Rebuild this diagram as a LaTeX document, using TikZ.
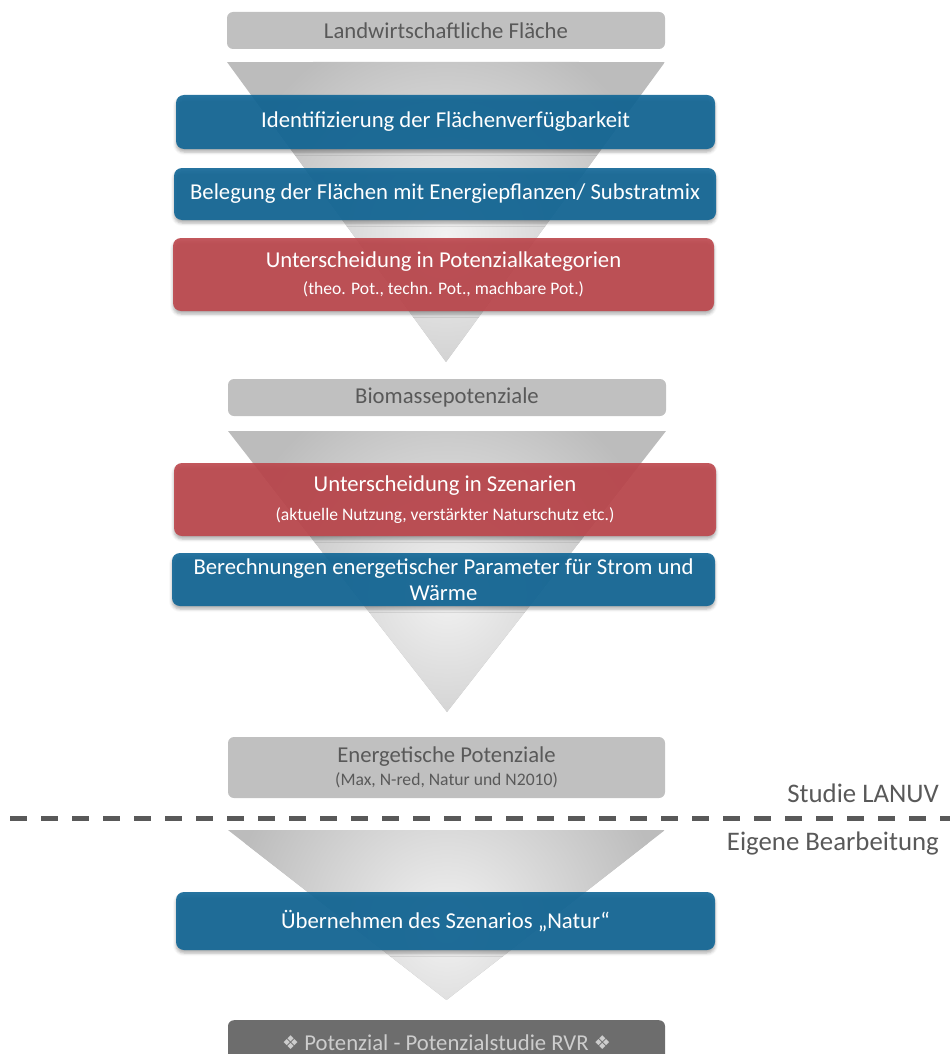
\documentclass[tikz,border=0pt]{standalone}
\usepackage{fontspec}
\setmainfont{Carlito}
\newfontfamily\symbolfont{DejaVu Sans}
\usetikzlibrary{shadows.blur}

\definecolor{boxgray}{RGB}{192,192,192}
\definecolor{txtgray}{RGB}{89,89,89}
\definecolor{stepblue}{RGB}{16,102,150}
\definecolor{stepred}{RGB}{189,70,76}
\definecolor{darkbox}{RGB}{109,109,109}
\definecolor{darktxt}{RGB}{205,205,205}
\definecolor{funnelout}{RGB}{188,188,188}
\definecolor{funnelin}{RGB}{242,242,242}

\newcommand{\mainsize}{\fontsize{22.7}{26}\selectfont}
\newcommand{\subsize}{\fontsize{17.6}{20}\selectfont}

\tikzset{
  x=1pt, y=-1pt,
  graybox/.style={rectangle, rounded corners=6pt, fill=boxgray, text=txtgray,
    inner sep=0pt, align=center, font=\mainsize},
  stepbox/.style={rectangle, rounded corners=8pt, fill opacity=0.9, text opacity=1,
    text=white, inner sep=0pt, align=center, font=\mainsize,
    blur shadow={shadow xshift=0pt, shadow yshift=-3pt, shadow opacity=35,
      shadow blur radius=3pt}},
  bluestep/.style={stepbox, fill=stepblue},
  redstep/.style={stepbox, fill=stepred},
  sidelabel/.style={anchor=east, text=txtgray, inner sep=0pt,
    font=\fontsize{26.8}{30}\selectfont},
}

% shaded funnel: top-left x, top-right x, top y, apex y
\newcommand{\funnel}[4]{%
  \begin{scope}
    \clip (#1,#3) -- (#2,#3) -- ({(#1+#2)/2},#4) -- cycle;
    \fill[funnelout] (#1,#3) rectangle (#2,#4);
    \shade[inner color=funnelin, outer color=funnelout]
      ({(#1+#2)/2},{#3+0.58*(#4-#3)}) circle ({0.5*(#2-#1)});
  \end{scope}%
}
\newcommand{\diamondsym}{\raisebox{1pt}[0pt][0pt]{\fontsize{19}{19}\selectfont\symbolfont ❖}}

\begin{document}
\begin{tikzpicture}
\useasboundingbox (0,0) rectangle (950,1054);

% funnels
\funnel{227}{665}{62}{362}
\funnel{228}{666}{431}{712}
\funnel{228}{665}{830}{1000}

% input / result boxes
\node[graybox, minimum width=438pt, minimum height=37pt] (flaeche) at (446,30.5)
  {Landwirtschaftliche Fläche};
\node[graybox, minimum width=438pt, minimum height=37pt] (biomasse) at (447,397.5)
  {Biomassepotenziale};
\node[graybox, minimum width=437pt, minimum height=61pt] (energie) at (446.5,767.5)
  {Energetische Potenziale\\[-3pt]{\subsize (Max, N-red, Natur und N2010)}};
\node[graybox, fill=darkbox, text=darktxt, minimum width=437pt, minimum height=44pt,
  anchor=north] (rvr) at (446.5,1020)
  {\diamondsym\ Potenzial - Potenzialstudie RVR \diamondsym};

% process steps
\node[bluestep, minimum width=539pt, minimum height=54pt] (ident) at (445.5,122)
  {Identifizierung der Flächenverfügbarkeit};
\node[bluestep, minimum width=542pt, minimum height=52pt] (beleg) at (445,194)
  {Belegung der Flächen mit Energiepflanzen/ Substratmix};
\node[redstep, minimum width=541pt, minimum height=73pt] (kat) at (443.5,274.5)
  {Unterscheidung in Potenzialkategorien\\[1pt]
   {\subsize (theo. Pot., techn. Pot., machbare Pot.)}};
\node[redstep, minimum width=542pt, minimum height=73pt] (szen) at (445,499.5)
  {Unterscheidung in Szenarien\\[3pt]
   {\subsize (aktuelle Nutzung, verstärkter Naturschutz etc.)}};
\node[bluestep, minimum width=543pt, minimum height=53pt] (berech) at (443.5,579.5)
  {Berechnungen energetischer Parameter für Strom und\\[0pt]Wärme};
\node[bluestep, minimum width=539pt, minimum height=58pt] (natur) at (445.5,921)
  {Übernehmen des Szenarios „Natur“};

% separator between study and own work
\coordinate (sepL) at (10,818);
\coordinate (sepR) at (950,818);
\draw[txtgray, line width=5pt, dash pattern=on 17pt off 14pt] (sepL) -- (sepR);
\node[sidelabel] (lanuv) at (939,793) {Studie LANUV};
\node[sidelabel] (eigen) at (939,843) {Eigene Bearbeitung};
\end{tikzpicture}
\end{document}
